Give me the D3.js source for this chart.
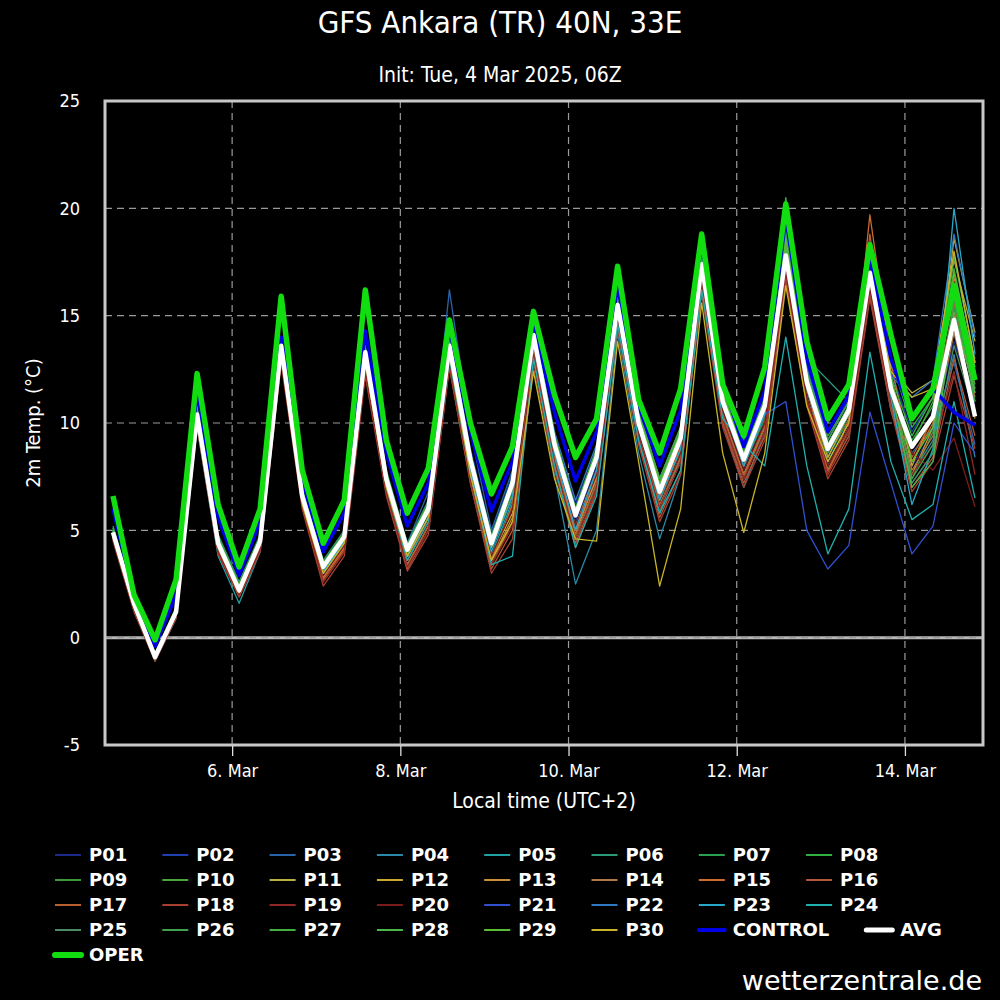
<!DOCTYPE html>
<html>
<head>
<meta charset="utf-8">
<script src="https://cdn.jsdelivr.net/npm/d3@7"></script>
<style>
  body { margin: 0; background: #000; }
  svg { display: block; }
</style>
</head>
<body>
<svg width="1000" height="1000"></svg>
<script>
// Setup data (local time UTC+2, 6-hourly steps)
const firstStep = Date.UTC(2025, 2, 4, 14); // 4 Mar 14:00 local
const stepHours = 6;
const tickDates = [Date.UTC(2025, 2, 6), Date.UTC(2025, 2, 8), Date.UTC(2025, 2, 10), Date.UTC(2025, 2, 12), Date.UTC(2025, 2, 14)];
const tickLabels = ["6. Mar", "8. Mar", "10. Mar", "12. Mar", "14. Mar"];
const yTicks = [-5, 0, 5, 10, 15, 20, 25];

const memberNames = ["P01","P02","P03","P04","P05","P06","P07","P08","P09","P10",
  "P11","P12","P13","P14","P15","P16","P17","P18","P19","P20",
  "P21","P22","P23","P24","P25","P26","P27","P28","P29","P30"];
const memberColors = ["#1c2a8c","#2040b0","#2a64a8","#2a88a8","#20a0a0","#2a9a78","#2aa050","#30b040","#3a9a3a","#4aa83a",
  "#b8b040","#c8a830","#c89038","#b07848","#d06a30","#b05838","#b86030","#a84030","#902828","#7a1c1c",
  "#3050d0","#3078c0","#28a8c8","#20b0b0","#4a8a60","#40a050","#40b040","#48b848","#58c030","#c8b428"];

const p01 = [4.8,1.5,-0.9,1.2, 10.2,4.3,2.2,4.4, 13.4,6.6,3.2,4.6, 13.0,7.2,3.9,5.7, 13.4,8.1,4.2,6.9, 14.0,8.8,5.4,8.0, 15.2,9.8,6.5,8.8, 17.2,10.6,7.9,10.2, 17.5,11.5,8.4,10.1, 16.5,11.0,8.0,9.6, 13.8,10.8];
const p02 = [5.0,1.7,-0.8,1.3, 10.6,4.6,2.4,4.6, 13.8,6.9,3.4,4.8, 13.5,7.6,4.2,6.2, 14.2,8.8,4.8,7.6, 14.6,9.4,6.2,8.8, 16.0,10.2,7.2,9.6, 17.8,11.4,8.8,11.0, 18.6,12.4,9.2,11.2, 18.0,12.4,9.6,11.2, 17.8,12.8];
const p03 = [4.7,1.4,-1.0,1.1, 10.0,4.2,2.0,4.3, 13.2,6.4,3.0,4.4, 13.0,7.6,4.4,6.8, 16.2,9.6,5.0,7.8, 13.6,9.0,5.0,7.4, 14.8,9.6,6.0,8.4, 16.8,10.8,8.4,10.8, 18.2,12.0,8.6,10.4, 16.2,11.4,8.6,9.8, 12.8,9.0];
const p04 = [4.9,1.5,-1.0,1.0, 10.3,4.2,2.0,4.2, 13.0,6.3,2.9,4.3, 12.6,6.8,3.4,5.2, 13.0,7.6,3.6,6.2, 13.4,7.6,2.5,5.0, 14.2,8.6,4.6,7.6, 16.4,10.0,7.0,9.6, 16.8,11.0,7.8,9.6, 16.0,10.6,7.6,9.2, 13.2,8.4];
const p05 = [4.6,1.3,-1.1,0.9, 9.8,3.8,1.6,4.0, 13.0,6.2,3.0,4.4, 12.8,7.0,3.8,5.6, 13.0,7.8,3.8,6.4, 13.8,8.2,4.6,7.2, 15.0,9.4,5.8,8.4, 17.0,10.4,7.6,10.0, 17.2,11.2,8.2,10.0, 16.8,11.0,7.2,8.6, 15.6,11.6];
const p06 = [5.2,1.8,-0.7,1.4, 10.8,4.8,2.6,4.8, 13.8,7.0,3.6,5.0, 13.6,7.8,4.4,6.4, 13.8,8.6,4.8,7.4, 14.4,9.2,6.0,8.6, 15.8,10.4,7.4,9.8, 18.2,12.0,9.2,11.4, 18.8,13.0,12.0,11.0, 17.6,12.8,10.4,11.4, 16.4,13.0];
const p07 = [5.0,1.6,-0.9,1.2, 10.4,4.5,2.3,4.5, 13.6,6.8,3.3,4.7, 13.2,7.4,4.0,6.0, 13.6,8.2,4.4,7.2, 14.2,9.0,5.6,8.4, 15.6,10.0,7.0,9.2, 17.6,11.2,8.4,10.6, 18.2,12.0,8.8,10.6, 17.2,11.8,9.2,10.8, 15.4,11.6];
const p08 = [5.1,1.7,-0.8,1.3, 10.6,4.6,2.4,4.6, 13.7,6.9,3.4,4.8, 13.4,7.6,4.2,6.2, 13.8,8.6,4.6,7.4, 14.6,9.4,6.0,8.8, 16.0,10.6,7.4,9.8, 18.6,12.0,9.0,11.4, 20.5,13.4,10.0,11.6, 18.0,13.0,9.8,11.2, 17.2,12.4];
const p09 = [4.8,1.5,-0.9,1.2, 10.2,4.3,2.2,4.4, 13.4,6.6,3.2,4.6, 13.0,7.2,3.9,5.8, 13.2,8.0,4.2,6.8, 14.0,8.6,5.2,7.8, 15.0,9.6,6.4,8.8, 17.0,10.6,8.0,10.2, 17.4,11.6,8.4,10.2, 16.4,11.2,7.4,9.6, 14.6,11.0];
const p10 = [5.0,1.6,-0.8,1.3, 10.5,4.5,2.4,4.6, 13.6,6.9,3.3,4.7, 13.3,7.5,4.1,6.0, 13.6,8.4,4.4,7.2, 14.4,9.2,5.8,8.4, 15.8,10.2,7.2,9.6, 17.8,11.4,8.8,11.0, 18.4,12.4,9.4,11.0, 17.4,12.0,9.0,11.0, 16.0,11.8];
const p11 = [4.9,1.6,-0.9,1.2, 10.4,4.4,2.3,4.5, 13.5,6.7,3.3,4.6, 13.1,7.3,4.0,5.9, 13.4,8.2,4.2,6.6, 13.8,8.6,4.8,7.6, 15.4,10.0,6.8,9.0, 17.2,11.0,8.2,10.6, 18.0,12.4,9.0,10.8, 17.8,12.6,11.4,12.0, 17.6,13.8];
const p12 = [4.8,1.5,-0.9,1.1, 10.2,4.3,2.2,4.4, 13.4,6.6,3.2,4.5, 12.8,7.0,3.8,5.6, 13.2,7.8,3.8,5.8, 13.0,8.2,4.6,7.0, 15.2,9.6,6.4,8.6, 16.8,10.4,7.6,9.8, 17.2,11.6,8.4,10.4, 17.4,12.2,8.0,10.4, 18.6,14.2];
const p13 = [4.7,1.4,-1.0,1.0, 10.0,4.1,2.0,4.2, 13.2,6.4,3.0,4.3, 12.6,6.9,3.6,5.4, 13.0,7.6,3.6,5.6, 13.2,8.4,5.0,7.4, 15.0,9.8,6.0,8.2, 16.6,10.2,7.4,9.8, 17.0,11.2,7.8,9.6, 16.6,11.4,7.6,9.8, 15.0,11.4];
const p14 = [4.6,1.3,-1.0,1.0, 10.0,4.0,2.0,4.1, 13.0,6.2,2.8,4.2, 12.4,6.8,3.4,5.2, 12.8,7.4,3.4,5.4, 13.4,8.4,5.2,7.8, 15.4,10.0,6.6,8.8, 17.0,10.8,8.0,10.4, 17.6,11.6,8.0,9.8, 17.4,11.6,7.8,9.4, 14.2,10.2];
const p15 = [4.8,1.4,-1.0,1.1, 10.2,4.2,2.1,4.3, 13.2,6.4,2.8,4.2, 12.6,7.0,3.6,5.6, 13.2,7.8,3.6,6.2, 13.6,8.6,5.0,7.6, 15.4,9.8,6.6,9.0, 17.4,11.2,8.2,10.6, 18.4,11.8,7.6,10.2, 19.7,12.8,8.2,10.0, 16.8,12.2];
const p16 = [4.6,1.3,-1.0,1.0, 9.9,4.0,1.9,4.1, 13.0,6.2,2.6,4.0, 12.4,6.8,3.2,5.0, 12.6,7.2,3.2,5.0, 13.0,8.0,4.4,6.8, 14.6,9.2,5.6,7.8, 16.2,10.0,7.2,9.4, 16.8,11.0,7.6,9.4, 16.0,10.8,7.0,8.4, 13.0,9.4];
const p17 = [4.7,1.4,-1.0,1.0, 10.0,4.1,2.0,4.2, 13.1,6.3,2.7,4.1, 12.5,6.9,3.3,5.2, 12.8,7.4,3.4,5.4, 13.2,8.2,4.8,7.2, 15.0,9.6,6.2,8.4, 16.6,10.4,7.6,9.8, 17.2,11.2,7.8,9.8, 18.8,12.0,8.4,10.2, 15.6,11.2];
const p18 = [4.5,1.2,-1.1,0.9, 9.8,3.9,1.9,4.0, 12.8,6.0,2.4,3.8, 12.2,6.6,3.1,4.8, 12.6,7.2,3.0,4.6, 12.6,7.8,4.2,6.8, 14.4,9.0,5.4,7.6, 16.0,9.8,7.0,9.2, 16.6,10.8,7.4,9.2, 15.8,10.6,6.8,8.2, 12.2,8.8];
const p19 = [4.6,1.3,-1.0,1.0, 10.0,4.0,2.0,4.1, 13.0,6.2,2.6,4.0, 12.4,6.8,3.3,5.0, 12.8,7.4,3.4,5.2, 13.2,8.2,4.6,7.0, 14.8,9.4,6.0,8.2, 16.4,10.2,7.4,9.6, 17.0,11.0,7.6,9.6, 16.2,11.0,7.6,9.0, 12.4,7.6];
const p20 = [4.7,1.4,-1.0,1.1, 10.1,4.2,2.1,4.3, 13.2,6.4,2.9,4.3, 12.8,7.0,3.6,5.4, 13.0,7.8,3.8,6.0, 13.6,8.6,5.2,7.6, 15.0,9.6,6.4,8.6, 16.8,10.6,7.8,10.0, 17.2,11.2,8.0,9.8, 16.4,11.2,8.6,7.8, 9.3,6.1];
const p21 = [4.8,1.5,-0.9,1.2, 10.3,4.4,2.3,4.5, 13.5,6.7,3.3,4.6, 13.2,7.4,4.0,5.9, 13.4,8.2,4.4,7.0, 14.2,9.0,5.6,8.2, 15.4,10.0,6.8,9.2, 17.0,10.8,8.4,10.4, 11.0,5.0,3.2,4.3, 10.5,7.2,3.9,5.2, 10.0,8.6];
const p22 = [5.0,1.6,-0.8,1.3, 10.5,4.5,2.4,4.6, 13.6,6.8,3.4,4.8, 13.4,7.6,4.2,6.2, 14.0,8.6,4.6,7.4, 14.6,9.6,6.4,9.0, 16.2,10.4,7.4,9.8, 18.0,11.8,9.0,11.2, 18.8,12.6,9.2,11.0, 17.8,12.2,11.2,12.0, 18.8,14.0];
const p23 = [4.9,1.5,-0.9,1.2, 10.3,4.3,2.2,4.4, 13.4,6.6,3.1,4.5, 13.0,7.2,3.8,5.6, 13.2,7.8,4.0,6.6, 13.8,8.6,5.0,7.8, 15.2,9.8,6.4,8.8, 17.2,10.8,8.0,10.4, 18.0,11.6,8.6,10.4, 17.0,11.2,6.2,8.8, 20.0,13.2];
const p24 = [4.8,1.4,-1.0,1.1, 10.2,4.2,2.1,4.3, 13.2,6.4,3.0,4.4, 12.8,7.0,3.6,5.4, 13.0,7.6,3.4,3.8, 13.0,8.0,4.2,6.6, 14.6,9.2,5.8,7.8, 16.2,10.2,9.0,8.0, 14.0,8.0,3.9,6.0, 13.3,8.2,5.5,6.2, 11.0,6.5];
const p25 = [4.9,1.6,-0.9,1.2, 10.4,4.4,2.3,4.5, 13.5,6.7,3.3,4.7, 13.2,7.4,4.0,6.0, 13.5,8.2,4.3,7.0, 14.2,9.0,5.6,8.2, 15.4,10.0,6.8,9.2, 17.4,11.0,8.2,10.6, 17.8,11.8,8.6,10.4, 16.8,11.4,7.2,8.6, 13.6,10.4];
const p26 = [5.0,1.7,-0.8,1.3, 10.6,4.6,2.4,4.6, 13.7,6.9,3.4,4.8, 13.4,7.6,4.2,6.2, 13.8,8.6,4.6,7.4, 14.4,9.2,5.8,8.6, 15.8,10.4,7.2,9.6, 17.8,11.4,8.6,11.0, 18.6,12.4,9.2,11.0, 17.6,12.2,7.4,9.0, 15.8,11.0];
const p27 = [5.1,1.7,-0.8,1.4, 10.7,4.7,2.5,4.7, 13.8,7.0,3.5,4.9, 13.5,7.7,4.3,6.3, 13.8,8.6,4.7,7.4, 14.6,9.4,6.0,8.8, 16.2,10.6,7.4,9.8, 18.2,11.6,8.8,11.2, 19.0,12.8,9.6,11.2, 17.4,12.2,9.4,11.2, 17.8,12.8];
const p28 = [4.9,1.6,-0.9,1.2, 10.4,4.4,2.3,4.5, 13.5,6.8,3.3,4.7, 13.3,7.5,4.1,6.1, 13.6,8.4,4.5,7.2, 14.2,9.2,5.8,8.4, 15.6,10.2,7.0,9.4, 17.6,11.2,8.4,10.8, 18.2,12.2,9.0,10.8, 16.6,11.6,7.0,8.2, 15.2,11.4];
const p29 = [5.0,1.6,-0.8,1.3, 10.5,4.5,2.4,4.6, 13.6,6.9,3.4,4.8, 13.4,7.6,4.2,6.2, 13.8,8.4,4.6,7.4, 14.4,9.4,6.0,8.6, 16.0,10.4,7.2,9.6, 18.0,11.4,8.6,11.0, 18.6,12.2,9.0,10.8, 17.0,12.0,8.2,9.8, 17.0,12.6];
const p30 = [4.7,1.4,-1.0,1.1, 10.1,4.2,2.1,4.3, 13.2,6.2,3.0,4.4, 12.8,7.0,3.8,5.6, 13.2,7.6,3.6,5.4, 12.4,7.4,4.6,4.5, 13.8,8.2,2.4,6.0, 15.6,8.6,4.9,8.6, 16.4,10.8,8.2,10.0, 17.6,12.4,11.2,11.6, 18.0,12.8];
const memberSeries = [p01,p02,p03,p04,p05,p06,p07,p08,p09,p10,p11,p12,p13,p14,p15,p16,p17,p18,p19,p20,
  p21,p22,p23,p24,p25,p26,p27,p28,p29,p30];

const control = [6.0,1.9,-0.4,2.0, 11.5,5.6,2.9,5.4, 14.0,7.3,4.0,5.8, 14.3,8.6,5.2,7.2, 14.4,9.6,5.9,8.2, 14.6,10.5,7.3,9.6, 16.4,10.8,8.0,10.6, 18.4,11.9,8.9,11.5, 19.6,13.0,9.6,11.3, 17.6,13.0,10.3,11.6, 10.5,9.9];
const avg = [4.9,1.6,-0.9,1.2, 10.4,4.4,2.2,4.5, 13.6,6.6,3.3,4.7, 13.3,7.4,4.1,6.0, 13.6,8.3,4.4,7.2, 14.1,9.0,5.7,8.4, 15.5,10.0,6.8,9.3, 17.4,11.0,8.3,10.8, 17.8,11.9,8.8,10.6, 17.0,11.6,8.9,10.3, 14.8,10.3];
const oper = [6.6,2.0,-0.1,2.7, 12.3,6.2,3.3,6.0, 15.9,7.8,4.4,6.4, 16.2,9.2,5.8,7.9, 14.8,10.0,6.7,8.9, 15.2,11.3,8.4,10.2, 17.3,11.1,8.6,11.6, 18.8,11.8,9.4,12.6, 20.2,13.8,10.2,11.8, 18.3,14.1,10.2,11.6, 16.4,12.0];

// Setup SVG
const svg = d3.select("svg");
const width = 1000;
const plot = { left: 105, right: 983, top: 101, bottom: 745 };
const condensed = "'DejaVu Sans Condensed', 'DejaVu Sans', sans-serif";

const times = oper.map((d, i) => new Date(firstStep + i * stepHours * 3600e3));
const padMs = 2.28 * 3600e3;

const x = d3.scaleTime()
  .domain([new Date(+times[0] - padMs), new Date(+times[times.length - 1] + padMs)])
  .range([plot.left, plot.right]);

const y = d3.scaleLinear()
  .domain([-5, 25])
  .range([plot.bottom, plot.top]);

svg.append("rect")
  .attr("width", width)
  .attr("height", 1000)
  .attr("fill", "#000");

// Grid
const grid = svg.append("g").attr("class", "grid");

grid.append("line")
  .attr("x1", plot.left).attr("x2", plot.right)
  .attr("y1", y(0)).attr("y2", y(0))
  .attr("stroke", "#b8b8b8")
  .attr("stroke-width", 3);

grid.selectAll(".hgrid")
  .data(yTicks.filter((d) => d > -5 && d < 25))
  .enter()
  .append("line")
  .attr("class", "hgrid")
  .attr("x1", plot.left).attr("x2", plot.right)
  .attr("y1", (d) => y(d)).attr("y2", (d) => y(d))
  .attr("stroke", "#9a9a9a")
  .attr("stroke-width", 1.2)
  .attr("stroke-dasharray", "7,5");

grid.selectAll(".vgrid")
  .data(tickDates)
  .enter()
  .append("line")
  .attr("class", "vgrid")
  .attr("x1", (d) => x(d)).attr("x2", (d) => x(d))
  .attr("y1", plot.top).attr("y2", plot.bottom)
  .attr("stroke", "#9a9a9a")
  .attr("stroke-width", 1.2)
  .attr("stroke-dasharray", "7,5");

// Lines
const line = d3.line()
  .x((d, i) => x(times[i]))
  .y((d) => y(d));

const lines = svg.append("g").attr("class", "lines");

lines.selectAll(".member")
  .data(memberSeries)
  .enter()
  .append("path")
  .attr("class", "member")
  .attr("d", line)
  .attr("fill", "none")
  .attr("stroke", (d, i) => memberColors[i])
  .attr("stroke-width", 1.3)
  .attr("stroke-linejoin", "round");

lines.append("path")
  .attr("d", line(control))
  .attr("fill", "none")
  .attr("stroke", "#0000e6")
  .attr("stroke-width", 3.5)
  .attr("stroke-linejoin", "round");

lines.append("path")
  .attr("d", line(avg))
  .attr("fill", "none")
  .attr("stroke", "#ffffff")
  .attr("stroke-width", 4.5)
  .attr("stroke-linejoin", "round");

lines.append("path")
  .attr("d", line(oper))
  .attr("fill", "none")
  .attr("stroke", "#11dd11")
  .attr("stroke-width", 5.5)
  .attr("stroke-linejoin", "round");

// Frame
svg.append("rect")
  .attr("x", plot.left).attr("y", plot.top)
  .attr("width", plot.right - plot.left)
  .attr("height", plot.bottom - plot.top)
  .attr("fill", "none")
  .attr("stroke", "#c8c8c8")
  .attr("stroke-width", 3);

// Axes
const xAxis = svg.append("g")
  .attr("transform", `translate(0,${plot.bottom + 1})`)
  .call(d3.axisBottom(x)
    .tickValues(tickDates)
    .tickFormat((d, i) => tickLabels[i])
    .tickSize(10)
    .tickPadding(8));
xAxis.select(".domain").remove();
xAxis.selectAll(".tick line").attr("stroke", "#e0e0e0").attr("stroke-width", 1.3);
xAxis.selectAll(".tick text")
  .attr("fill", "#fff")
  .style("font-family", condensed)
  .style("font-size", "18px");

const yAxis = svg.append("g")
  .attr("transform", `translate(${plot.left - 4},0)`)
  .call(d3.axisLeft(y).tickValues(yTicks).tickFormat((d) => String(d)).tickSize(0).tickPadding(21));
yAxis.select(".domain").remove();
yAxis.selectAll(".tick text")
  .attr("fill", "#fff")
  .style("font-family", condensed)
  .style("font-size", "18px");

// Titles
svg.append("text")
  .attr("x", 500).attr("y", 33)
  .attr("text-anchor", "middle")
  .attr("fill", "#fff")
  .style("font-family", condensed)
  .style("font-size", "31px")
  .text("GFS Ankara (TR) 40N, 33E");

svg.append("text")
  .attr("x", 500).attr("y", 82)
  .attr("text-anchor", "middle")
  .attr("fill", "#fff")
  .style("font-family", condensed)
  .style("font-size", "21px")
  .text("Init: Tue, 4 Mar 2025, 06Z");

svg.append("text")
  .attr("x", 544).attr("y", 808)
  .attr("text-anchor", "middle")
  .attr("fill", "#fff")
  .style("font-family", condensed)
  .style("font-size", "21px")
  .text("Local time (UTC+2)");

svg.append("text")
  .attr("transform", `translate(40,${(plot.top + plot.bottom) / 2}) rotate(-90)`)
  .attr("text-anchor", "middle")
  .attr("fill", "#fff")
  .style("font-family", condensed)
  .style("font-size", "20px")
  .text("2m Temp. (°C)");

// Legend: fixed columns, a label too wide for its column pushes the next item
const legendItems = memberNames.map((name, i) => ({ name: name, color: memberColors[i], w: 2 }))
  .concat([
    { name: "CONTROL", color: "#0000e6", w: 4 },
    { name: "AVG", color: "#ffffff", w: 5 },
    { name: "OPER", color: "#11dd11", w: 6 },
  ]);

const legendG = svg.append("g").attr("class", "legend");
const colStep = 107.3;
let lx = 55;
let ly = 855;
legendItems.forEach((d) => {
  const item = legendG.append("g");
  const label = item.append("text")
    .attr("x", 34)
    .attr("dy", "0.36em")
    .attr("fill", "#fff")
    .style("font-family", "'DejaVu Sans', sans-serif")
    .style("font-weight", "bold")
    .style("font-size", "18px")
    .text(d.name);
  const textLen = label.node().getComputedTextLength();
  const itemWidth = 34 + textLen + 30 > colStep ? 34 + textLen + 37 : colStep;
  if (lx + itemWidth > width + 20) {
    lx = 55;
    ly += 25;
  }
  item.attr("transform", `translate(${lx},${ly})`);
  item.insert("line", "text")
    .attr("x1", 0).attr("x2", 26)
    .attr("stroke", d.color)
    .attr("stroke-width", d.w)
    .attr("stroke-linecap", d.w > 2 ? "round" : "butt");
  lx += itemWidth;
});

svg.append("text")
  .attr("x", 982).attr("y", 990)
  .attr("text-anchor", "end")
  .attr("fill", "#fff")
  .style("font-family", "'DejaVu Sans', sans-serif")
  .style("font-size", "27px")
  .text("wetterzentrale.de");
</script>
</body>
</html>
